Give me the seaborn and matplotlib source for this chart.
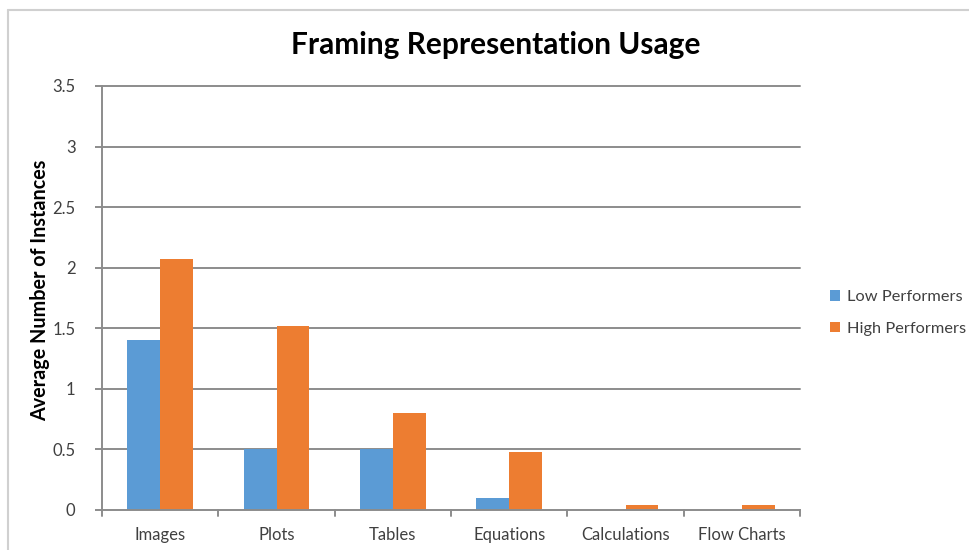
import matplotlib
matplotlib.use("Agg")
import matplotlib.pyplot as plt
from matplotlib.lines import Line2D
from matplotlib.patches import Patch
import seaborn as sns
import pandas as pd

categories = ["Images", "Plots", "Tables", "Equations", "Calculations", "Flow Charts"]
low_performers = [1.40, 0.50, 0.50, 0.10, 0.00, 0.00]
high_performers = [2.07, 1.52, 0.80, 0.48, 0.04, 0.04]
series_names = ["Low Performers", "High Performers"]
y_ticks = [0, 0.5, 1, 1.5, 2, 2.5, 3, 3.5]
y_tick_labels = ["0", "0.5", "1", "1.5", "2", "2.5", "3", "3.5"]

colors = ["#5B9BD5", "#ED7D31"]
grid_color = "#8C8C8C"
text_color = "#404040"

df = pd.DataFrame({
    "Category": categories * 2,
    "Value": low_performers + high_performers,
    "Series": [series_names[0]] * len(categories) + [series_names[1]] * len(categories),
})

sns.set_theme(style="white")
plt.rcParams["font.family"] = ["Lato", "DejaVu Sans"]

fig = plt.figure(figsize=(9.69, 5.5), dpi=100)
ax = fig.add_axes([102 / 969, 1 - 510 / 550, 698 / 969, 424 / 550])

sns.barplot(data=df, x="Category", y="Value", hue="Series", order=categories,
            hue_order=series_names, palette=colors, width=0.5625, saturation=1,
            linewidth=0, edgecolor="none", errorbar=None, legend=False, ax=ax, zorder=3)

ax.set_xlim(-0.5, len(categories) - 0.5)
ax.set_ylim(0, 3.5)
ax.set_yticks(y_ticks)
ax.set_yticklabels(y_tick_labels)

# horizontal gridlines
for t in y_ticks[1:]:
    ax.axhline(t, color=grid_color, lw=1.4, zorder=1, clip_on=False)

for side in ["top", "right"]:
    ax.spines[side].set_visible(False)
for side in ["left", "bottom"]:
    ax.spines[side].set_color(grid_color)
    ax.spines[side].set_linewidth(1.4)
    ax.spines[side].set_zorder(4)

ax.set_xticks(range(len(categories)))
ax.set_xticklabels(categories)
ax.tick_params(axis="x", length=0, pad=12, labelsize=12, labelcolor=text_color)

# category boundary ticks below the axis
xt = ax.get_xaxis_transform()
for b in [i - 0.5 for i in range(len(categories) + 1)]:
    ax.plot([b, b], [0, -0.014], color=grid_color, lw=1.4, transform=xt, clip_on=False)

ax.tick_params(axis="y", which="major", left=True, length=5, width=1.4, color=grid_color,
               pad=14, labelsize=12, labelcolor=text_color)

ax.set_xlabel("")
ax.set_ylabel("Average Number of Instances", fontsize=14.2, fontweight="bold",
              color="#000000", va="center")
ax.yaxis.set_label_coords(-0.088, 0.519)

fig.text(496 / 969, 1 - 45 / 550, "Framing Representation Usage",
         ha="center", va="center", fontsize=21.5, fontweight="bold", color="#000000")

handles = [Patch(facecolor=c, edgecolor="none") for c in colors]
fig.legend(handles, series_names, loc="center left", bbox_to_anchor=(815 / 969, 1 - 313 / 550),
           frameon=False, fontsize=11.8, handlelength=0.6, handleheight=0.6,
           handletextpad=0.45, labelspacing=1.05, labelcolor=text_color)

# outer chart border
fig.add_artist(Line2D([8 / 969, 8 / 969], [0, 1 - 10 / 550], color="#D0D0D0", lw=1.5,
                      transform=fig.transFigure))
fig.add_artist(Line2D([8 / 969, 1], [1 - 10 / 550, 1 - 10 / 550], color="#D0D0D0", lw=1.5,
                      transform=fig.transFigure))

fig.savefig("out.png", dpi=100, facecolor="white")
